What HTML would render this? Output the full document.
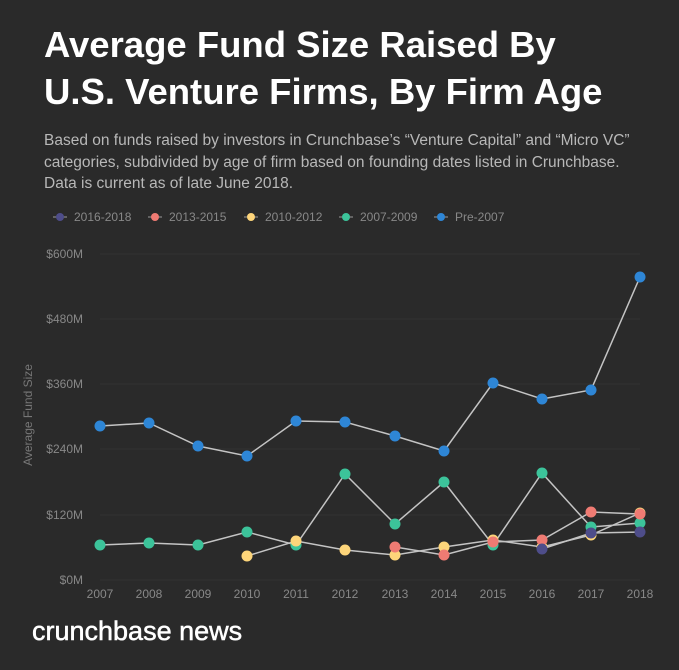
<!DOCTYPE html>
<html><head><meta charset="utf-8"><style>
body{margin:0;width:679px;height:665px;background:#2a2a2a;overflow:hidden;font-family:"Liberation Sans",sans-serif}
</style></head><body>
<svg width="679" height="665" xmlns="http://www.w3.org/2000/svg" font-family="Liberation Sans, sans-serif">
<rect width="679" height="665" fill="#2a2a2a"/>
<text x="44" y="57" fill="#fff" font-size="36.5" font-weight="bold">Average Fund Size Raised By</text>
<text x="44" y="104" fill="#fff" font-size="36.5" font-weight="bold">U.S. Venture Firms, By Firm Age</text>
<g fill="#b8b8b8" font-size="15.5">
<text x="44" y="145">Based on funds raised by investors in Crunchbase’s “Venture Capital” and “Micro VC”</text>
<text x="44" y="167">categories, subdivided by age of firm based on founding dates listed in Crunchbase.</text>
<text x="44" y="188">Data is current as of late June 2018.</text>
</g>
<g font-size="12" fill="#888">
<line x1="53" y1="217" x2="67" y2="217" stroke="#999"/><circle cx="60" cy="217" r="4" fill="#4e4d8a"/><text x="74" y="221">2016-2018</text>
<line x1="148" y1="217" x2="162" y2="217" stroke="#999"/><circle cx="155" cy="217" r="4" fill="#ef7b73"/><text x="169" y="221">2013-2015</text>
<line x1="244" y1="217" x2="258" y2="217" stroke="#999"/><circle cx="251" cy="217" r="4" fill="#fdd57a"/><text x="265" y="221">2010-2012</text>
<line x1="339" y1="217" x2="353" y2="217" stroke="#999"/><circle cx="346" cy="217" r="4" fill="#3cc39a"/><text x="360" y="221">2007-2009</text>
<line x1="434" y1="217" x2="448" y2="217" stroke="#999"/><circle cx="441" cy="217" r="4" fill="#2e86d6"/><text x="455" y="221">Pre-2007</text>
</g>
<g stroke="#333" stroke-width="1">
<line x1="100" y1="254" x2="640" y2="254"/><line x1="100" y1="319" x2="640" y2="319"/><line x1="100" y1="384" x2="640" y2="384"/><line x1="100" y1="449" x2="640" y2="449"/><line x1="100" y1="515" x2="640" y2="515"/><line x1="100" y1="580" x2="640" y2="580"/>
</g>
<g fill="#888" font-size="12" text-anchor="end">
<text x="83" y="258">$600M</text><text x="83" y="323">$480M</text><text x="83" y="388">$360M</text><text x="83" y="453">$240M</text><text x="83" y="519">$120M</text><text x="83" y="584">$0M</text>
</g>
<text transform="translate(32,415) rotate(-90)" fill="#777" font-size="12" text-anchor="middle">Average Fund Size</text>
<g fill="#888" font-size="12" text-anchor="middle">
<text x="100" y="598">2007</text><text x="149" y="598">2008</text><text x="198" y="598">2009</text><text x="247" y="598">2010</text><text x="296" y="598">2011</text><text x="345" y="598">2012</text><text x="395" y="598">2013</text><text x="444" y="598">2014</text><text x="493" y="598">2015</text><text x="542" y="598">2016</text><text x="591" y="598">2017</text><text x="640" y="598">2018</text>
</g>
<g fill="none" stroke="#c4c4c4" stroke-width="1.5">
<polyline points="100,426 149,423 198,446 247,456 296,421 345,422 395,436 444,451 493,383 542,399 591,390 640,277"/>
<polyline points="100,545 149,543 198,545 247,532 296,545 345,474 395,524 444,482 493,545 542,473 591,527 640,523"/>
<polyline points="247,556 296,541 345,550 395,555 444,547 493,540 542,547 591,535 640,513"/>
<polyline points="395,547 444,555 493,542 542,540 591,512 640,514"/>
<polyline points="542,549 591,533 640,532"/>
</g>
<g fill="#2e86d6"><circle cx="100" cy="426" r="5.5"/><circle cx="149" cy="423" r="5.5"/><circle cx="198" cy="446" r="5.5"/><circle cx="247" cy="456" r="5.5"/><circle cx="296" cy="421" r="5.5"/><circle cx="345" cy="422" r="5.5"/><circle cx="395" cy="436" r="5.5"/><circle cx="444" cy="451" r="5.5"/><circle cx="493" cy="383" r="5.5"/><circle cx="542" cy="399" r="5.5"/><circle cx="591" cy="390" r="5.5"/><circle cx="640" cy="277" r="5.5"/></g>
<g fill="#3cc39a"><circle cx="100" cy="545" r="5.5"/><circle cx="149" cy="543" r="5.5"/><circle cx="198" cy="545" r="5.5"/><circle cx="247" cy="532" r="5.5"/><circle cx="296" cy="545" r="5.5"/><circle cx="345" cy="474" r="5.5"/><circle cx="395" cy="524" r="5.5"/><circle cx="444" cy="482" r="5.5"/><circle cx="493" cy="545" r="5.5"/><circle cx="542" cy="473" r="5.5"/><circle cx="591" cy="527" r="5.5"/><circle cx="640" cy="523" r="5.5"/></g>
<g fill="#fdd57a"><circle cx="247" cy="556" r="5.5"/><circle cx="296" cy="541" r="5.5"/><circle cx="345" cy="550" r="5.5"/><circle cx="395" cy="555" r="5.5"/><circle cx="444" cy="547" r="5.5"/><circle cx="493" cy="540" r="5.5"/><circle cx="542" cy="547" r="5.5"/><circle cx="591" cy="535" r="5.5"/><circle cx="640" cy="513" r="5.5"/></g>
<g fill="#ef7b73"><circle cx="395" cy="547" r="5.5"/><circle cx="444" cy="555" r="5.5"/><circle cx="493" cy="542" r="5.5"/><circle cx="542" cy="540" r="5.5"/><circle cx="591" cy="512" r="5.5"/><circle cx="640" cy="514" r="5.5"/></g>
<g fill="#4e4d8a"><circle cx="542" cy="549" r="5.5"/><circle cx="591" cy="533" r="5.5"/><circle cx="640" cy="532" r="5.5"/></g>
<text x="32" y="640" fill="#fff" stroke="#fff" stroke-width="0.5" font-size="27">crunchbase news</text>
</svg>
</body></html>
